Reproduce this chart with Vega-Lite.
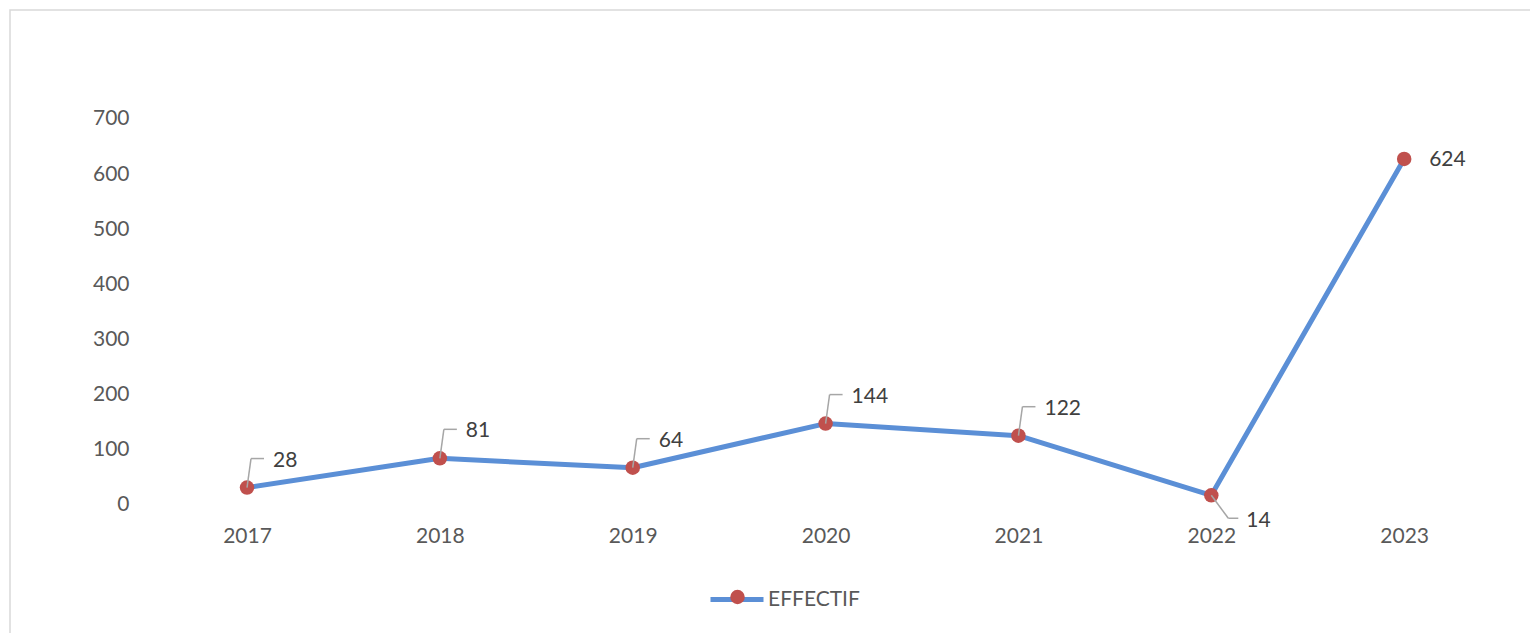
{
  "$schema": "https://vega.github.io/schema/vega-lite/v6.json",
  "width": 1530,
  "height": 633,
  "autosize": {"type": "none"},
  "padding": {"left": 10, "top": 10, "right": 0, "bottom": 0},
  "background": "white",
  "config": {
    "view": {"stroke": "#d9d9d9", "strokeWidth": 1.5},
    "font": "Lato",
    "text": {"font": "Lato"}
  },
  "data": {
    "values": [
      {"year": 2017, "value": 28},
      {"year": 2018, "value": 81},
      {"year": 2019, "value": 64},
      {"year": 2020, "value": 144},
      {"year": 2021, "value": 122},
      {"year": 2022, "value": 14},
      {"year": 2023, "value": 624}
    ]
  },
  "encoding": {
    "x": {
      "field": "year",
      "type": "quantitative",
      "scale": {"domain": [2015.7711, 2023.7043], "nice": false, "zero": false},
      "axis": {
        "title": null,
        "values": [2017, 2018, 2019, 2020, 2021, 2022, 2023],
        "format": "d",
        "domain": false,
        "ticks": false,
        "grid": false,
        "offset": -140,
        "labelPadding": 33,
        "labelBaseline": "middle",
        "labelFont": "Lato",
        "labelFontSize": 21,
        "labelColor": "#595959",
        "labelFlush": false,
        "labelOverlap": false
      }
    },
    "y": {
      "field": "value",
      "type": "quantitative",
      "scale": {"domain": [-253.9, 894.0], "nice": false, "zero": false},
      "axis": {
        "title": null,
        "values": [0, 100, 200, 300, 400, 500, 600, 700],
        "domain": false,
        "ticks": false,
        "grid": false,
        "offset": -121,
        "labelPadding": 2,
        "labelOffset": 2,
        "labelFont": "Lato",
        "labelFontSize": 21,
        "labelColor": "#595959"
      }
    }
  },
  "layer": [
    {
      "data": {"values": [{"a": 1}]},
      "mark": {"type": "rule", "color": "#d9d9d9", "strokeWidth": 1.5},
      "encoding": {
        "x": {"datum": 2016.5},
        "x2": {"datum": 2023.5},
        "y": {"datum": 0}
      }
    },
    {
      "mark": {"type": "line", "strokeWidth": 5, "strokeCap": "round", "strokeJoin": "round"},
      "encoding": {
        "stroke": {
          "datum": "EFFECTIF",
          "scale": {"range": ["#5B8FD6"]},
          "legend": {
            "title": null,
            "orient": "none",
            "legendX": 698,
            "legendY": 560.5,
            "padding": 0,
            "symbolType": "stroke",
            "symbolSize": 2809,
            "symbolStrokeWidth": 5,
            "labelOffset": 2,
            "labelFont": "Lato",
            "labelFontSize": 21,
            "labelColor": "#595959"
          }
        }
      }
    },
    {
      "mark": {"type": "circle", "size": 210, "opacity": 1},
      "encoding": {
        "fill": {
          "datum": "point",
          "scale": {"range": ["#C0504D"]},
          "legend": {
            "title": null,
            "orient": "none",
            "legendX": 717,
            "legendY": 576.5,
            "padding": 0,
            "symbolType": "circle",
            "symbolSize": 210,
            "symbolOpacity": 1,
            "symbolStrokeWidth": 0,
            "labelExpr": "''",
            "labelFontSize": 21
          }
        }
      }
    },
    {
      "transform": [{"filter": "datum.year <= 2021"}],
      "mark": {"type": "rule", "color": "#a6a6a6", "strokeWidth": 1.5, "x2Offset": 4, "y2Offset": -29},
      "encoding": {"x2": {"field": "year"}, "y2": {"field": "value"}}
    },
    {
      "transform": [{"filter": "datum.year <= 2021"}],
      "mark": {"type": "rule", "color": "#a6a6a6", "strokeWidth": 1.5, "xOffset": 4, "yOffset": -29, "x2Offset": 17, "y2Offset": -29},
      "encoding": {"x2": {"field": "year"}, "y2": {"field": "value"}}
    },
    {
      "transform": [{"filter": "datum.year == 2022"}],
      "mark": {"type": "rule", "color": "#a6a6a6", "strokeWidth": 1.5, "x2Offset": 17, "y2Offset": 23},
      "encoding": {"x2": {"field": "year"}, "y2": {"field": "value"}}
    },
    {
      "transform": [{"filter": "datum.year == 2022"}],
      "mark": {"type": "rule", "color": "#a6a6a6", "strokeWidth": 1.5, "xOffset": 17, "yOffset": 23, "x2Offset": 27, "y2Offset": 23},
      "encoding": {"x2": {"field": "year"}, "y2": {"field": "value"}}
    },
    {
      "transform": [{"filter": "datum.year <= 2021"}],
      "mark": {"type": "text", "align": "left", "baseline": "middle", "dx": 26, "dy": -27, "fontSize": 21, "color": "#404040", "font": "Lato"},
      "encoding": {"text": {"field": "value", "type": "quantitative"}}
    },
    {
      "transform": [{"filter": "datum.year == 2022"}],
      "mark": {"type": "text", "align": "left", "baseline": "middle", "dx": 35, "dy": 26, "fontSize": 21, "color": "#404040", "font": "Lato"},
      "encoding": {"text": {"field": "value", "type": "quantitative"}}
    },
    {
      "transform": [{"filter": "datum.year == 2023"}],
      "mark": {"type": "text", "align": "left", "baseline": "middle", "dx": 25, "dy": 1, "fontSize": 21, "color": "#404040", "font": "Lato"},
      "encoding": {"text": {"field": "value", "type": "quantitative"}}
    }
  ]
}
